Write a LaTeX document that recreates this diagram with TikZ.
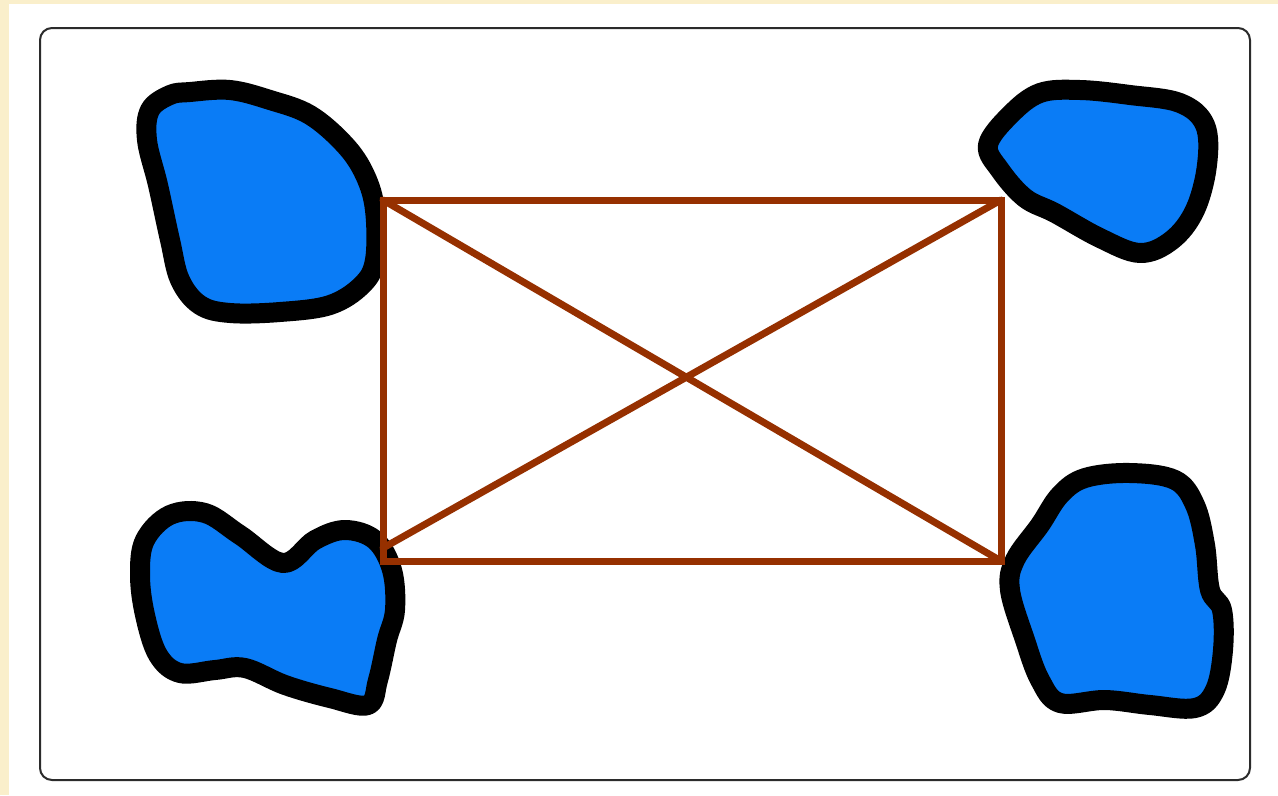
\documentclass[tikz,border=0pt]{standalone}
\usepackage{xcolor}
\definecolor{mapCream}{HTML}{FAEFCB}
\definecolor{mapFrame}{HTML}{2B2B2B}
\definecolor{mapLake}{HTML}{0A7CF6}
\definecolor{mapRust}{HTML}{963000}
\usepackage{tikz}
\begin{document}
\begin{tikzpicture}[
    x=0.02cm, y=-0.02cm,
    frame/.style={draw=mapFrame, line width=0.04cm, rounded corners=0.24cm},
    lake/.style={draw=black, fill=mapLake, line width=0.4cm, line join=round},
    road/.style={draw=mapRust, line width=0.14cm, line cap=round, line join=miter}
  ]
    \useasboundingbox (0,0) rectangle (1278,795);
    \fill[mapCream] (0,0) rectangle (1278,795);
    \fill[white] (9,4) rectangle (1278,795);
    \draw[frame] (40,28) rectangle (1250,780);
    \draw[lake] plot[smooth cycle, tension=0.6] coordinates {(190,92) (230,90) (270,100) (310,115) (345,145) (365,175) (375,210) (375,260) (362,285) (330,305) (280,312) (230,313) (200,305) (180,280) (170,240) (158,185) (147,140) (150,110) (170,95)};
    \draw[lake] plot[smooth cycle, tension=0.6] coordinates {(140,575) (145,540) (170,515) (205,513) (240,535) (283,563) (315,540) (345,530) (375,540) (392,570) (395,610) (387,640) (378,680) (368,705) (330,698) (285,685) (245,668) (215,670) (180,673) (158,655) (145,615)};
    \draw[lake] plot[smooth cycle, tension=0.6] coordinates {(988,145) (1010,115) (1040,93) (1080,90) (1130,95) (1180,103) (1205,125) (1207,165) (1195,210) (1172,240) (1140,253) (1100,238) (1055,213) (1025,198) (1000,170)};
    \draw[lake] plot[smooth cycle, tension=0.6] coordinates {(1085,478) (1130,473) (1175,480) (1195,505) (1205,545) (1210,590) (1222,610) (1223,650) (1215,690) (1195,708) (1150,705) (1105,700) (1060,703) (1040,680) (1025,640) (1010,590) (1015,560) (1040,525) (1060,495)};
    \coordinate (nw) at (383,200);
    \coordinate (ne) at (1001,200);
    \coordinate (se) at (1001,561);
    \coordinate (sw) at (383,561);
    \coordinate (swd) at (383,548);
    \draw[road] (nw) -- (ne) -- (se) -- (sw) -- cycle;
    \draw[road] (nw) -- (se);
    \draw[road] (swd) -- (ne);
  \end{tikzpicture}
\end{document}
